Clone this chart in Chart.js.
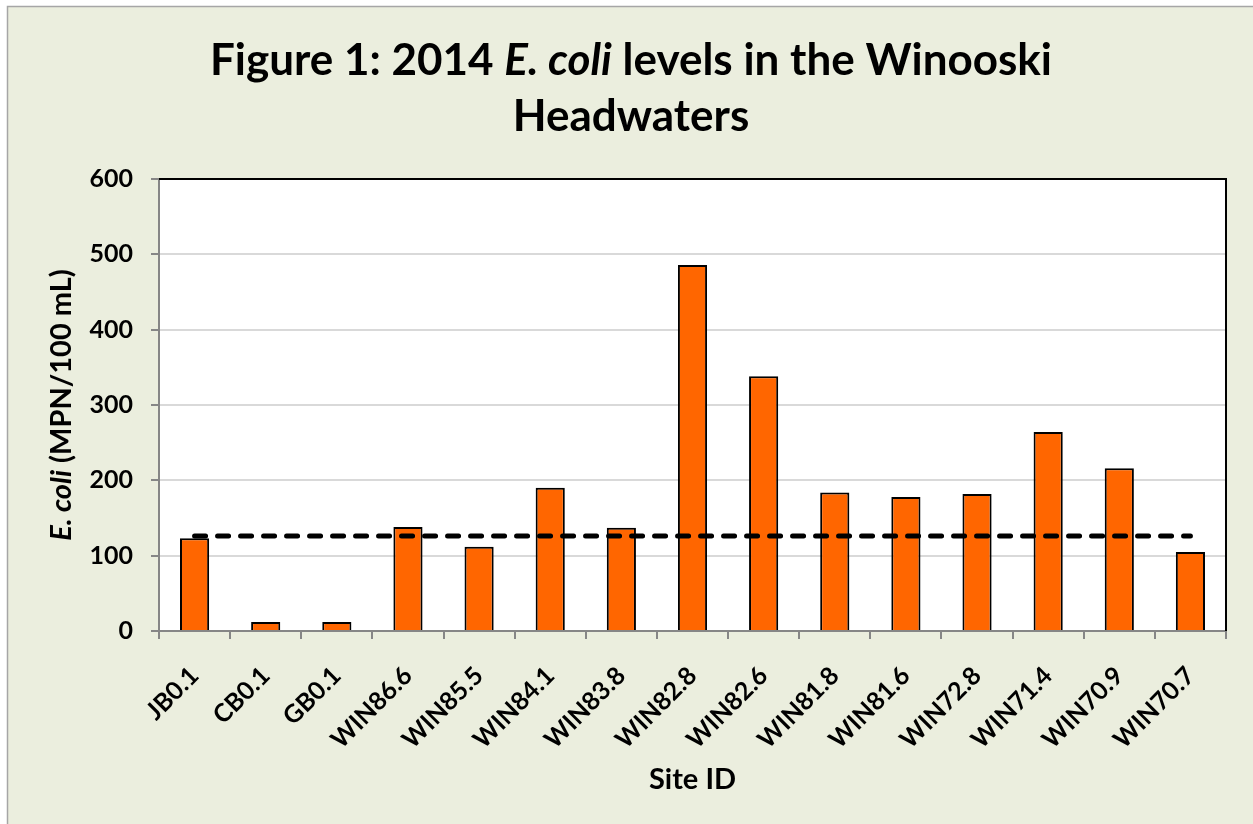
<!DOCTYPE html>
<html>
<head>
<meta charset="utf-8">
<script src="https://cdn.jsdelivr.net/npm/chart.js@4.4.0/dist/chart.umd.min.js"></script>
<style>
  html, body { margin: 0; padding: 0; background: #ffffff; }
  #wrap { position: relative; width: 1253px; height: 824px; }
</style>
</head>
<body>
<div id="wrap"><canvas id="chart"></canvas></div>
<script>
// site IDs along the x axis
const sites = ['JB0.1', 'CB0.1', 'GB0.1', 'WIN86.6', 'WIN85.5', 'WIN84.1', 'WIN83.8', 'WIN82.8',
               'WIN82.6', 'WIN81.8', 'WIN81.6', 'WIN72.8', 'WIN71.4', 'WIN70.9', 'WIN70.7'];
// geometric mean E. coli (MPN/100 mL)
const ecoli = [123, 12, 12, 138, 112, 190, 137, 486, 338, 184, 178, 182, 264, 216, 105];
// state standard (dashed line)
const standard = [126, 126, 126, 126, 126, 126, 126, 126, 126, 126, 126, 126, 126, 126, 126];
const yTicks = [0, 100, 200, 300, 400, 500, 600];

const FONT = 'Lato, "Open Sans", sans-serif';

// draws a line of text made of plain / italic pieces, centred on x
function drawMixed(ctx, parts, x, y, size) {
    let total = 0;
    parts.forEach(p => {
        ctx.font = (p.italic ? 'italic ' : '') + 'bold ' + size + 'px ' + FONT;
        p.w = ctx.measureText(p.text).width;
        total += p.w;
    });
    let cx = x - total / 2;
    parts.forEach(p => {
        ctx.font = (p.italic ? 'italic ' : '') + 'bold ' + size + 'px ' + FONT;
        ctx.fillText(p.text, cx, y);
        cx += p.w;
    });
}

const decor = {
    id: 'decor',
    beforeDraw(chart) {
        const ctx = chart.ctx;
        ctx.save();
        ctx.fillStyle = '#ebeede';
        ctx.fillRect(7, 6, chart.width - 7, chart.height - 6);
        ctx.strokeStyle = '#a6a6a6';
        ctx.lineWidth = 1.5;
        ctx.beginPath();
        ctx.moveTo(7.5, chart.height);
        ctx.lineTo(7.5, 6.5);
        ctx.lineTo(chart.width, 6.5);
        ctx.stroke();
        const a = chart.chartArea;
        ctx.fillStyle = '#ffffff';
        ctx.fillRect(a.left, a.top, a.right - a.left, a.bottom - a.top);
        ctx.restore();
    },
    beforeDatasetsDraw(chart) {
        const ctx = chart.ctx;
        const a = chart.chartArea;
        ctx.save();
        ctx.strokeStyle = '#000000';
        ctx.lineWidth = 2;
        ctx.beginPath();
        ctx.moveTo(a.left, a.top);
        ctx.lineTo(a.right, a.top);
        ctx.lineTo(a.right, a.bottom);
        ctx.stroke();
        ctx.restore();
    },
    afterDraw(chart) {
        const ctx = chart.ctx;
        const a = chart.chartArea;
        ctx.save();
        ctx.fillStyle = '#000000';
        ctx.textBaseline = 'alphabetic';
        ctx.textAlign = 'left';
        drawMixed(ctx, [{ text: 'Figure 1: 2014 ' }, { text: 'E. coli', italic: true },
                        { text: ' levels in the Winooski' }], 631, 75, 44);
        drawMixed(ctx, [{ text: 'Headwaters' }], 631, 131, 44);
        drawMixed(ctx, [{ text: 'Site ID' }], (a.left + a.right) / 2, 789, 29);
        ctx.translate(71, (a.top + a.bottom) / 2);
        ctx.rotate(-Math.PI / 2);
        drawMixed(ctx, [{ text: 'E. coli', italic: true }, { text: ' (MPN/100 mL)' }], 0, 0, 29);
        ctx.restore();
    }
};

new Chart(document.getElementById('chart'), {
    type: 'bar',
    data: {
        labels: sites,
        datasets: [{
            type: 'line',
            label: 'Standard',
            data: standard,
            borderColor: '#000000',
            borderWidth: 5,
            borderDash: [11, 12],
            borderCapStyle: 'round',
            pointRadius: 0,
            fill: false,
            order: 0
        }, {
            label: 'E. coli',
            data: ecoli,
            backgroundColor: '#ff6600',
            borderColor: '#000000',
            borderWidth: 2,
            barPercentage: 0.41,
            categoryPercentage: 1,
            order: 1
        }]
    },
    options: {
        responsive: true,
        maintainAspectRatio: false,
        animation: false,
        layout: { padding: { top: 179, right: 27, left: 0, bottom: 0 } },
        plugins: {
            legend: { display: false },
            title: { display: false },
            tooltip: { enabled: false }
        },
        scales: {
            x: {
                afterFit(scale) { scale.height = 193; },
                grid: { drawOnChartArea: false, tickLength: 8, tickColor: '#868686', lineWidth: 2 },
                border: { color: '#868686', width: 2 },
                ticks: {
                    color: '#000000',
                    font: { family: FONT, weight: 'bold', size: 25 },
                    minRotation: 45,
                    maxRotation: 45,
                    padding: 22
                }
            },
            y: {
                min: 0,
                max: 600,
                afterFit(scale) { scale.width = 159; },
                afterBuildTicks(scale) { scale.ticks = yTicks.map(v => ({ value: v })); },
                grid: { color: '#d9d9d9', lineWidth: 2, tickLength: 8, tickColor: '#868686' },
                border: { color: '#868686', width: 2 },
                ticks: {
                    color: '#000000',
                    font: { family: FONT, weight: 'bold', size: 25 },
                    padding: 18
                }
            }
        }
    },
    plugins: [decor]
});
</script>
</body>
</html>
